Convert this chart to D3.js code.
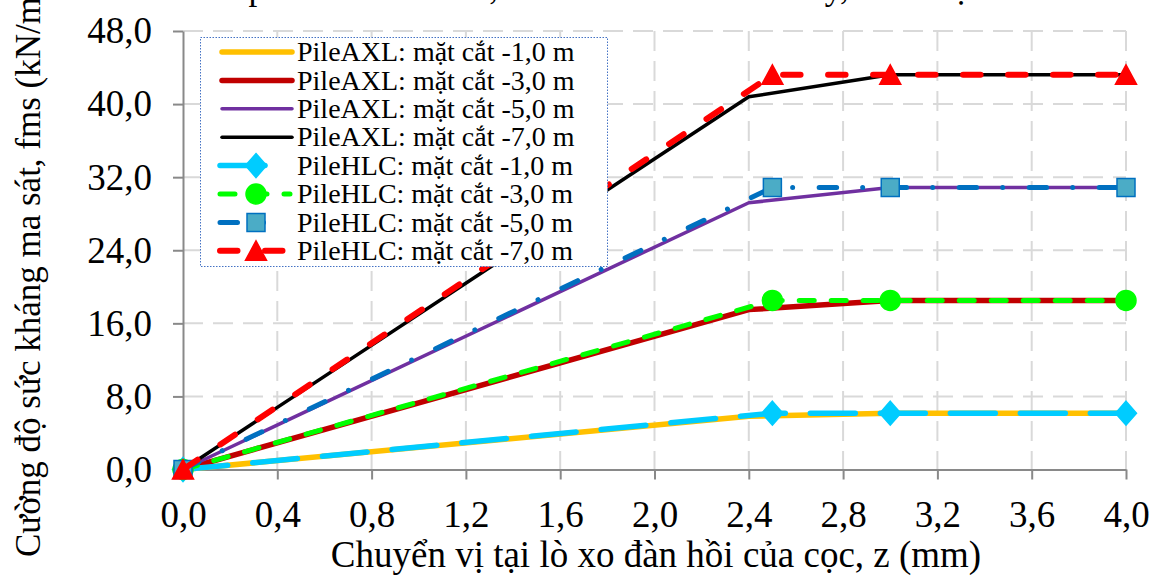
<!DOCTYPE html>
<html>
<head>
<meta charset="utf-8">
<script src="https://cdn.jsdelivr.net/npm/d3@7"></script>
<style>
  html, body { margin: 0; padding: 0; background: #fff; }
  svg { display: block; }
  svg text { font-family: "Liberation Serif", "Times New Roman", serif; }
</style>
</head>
<body>
<svg id="chart" width="1156" height="576"></svg>
<script>
// Displacement z (mm) and unit skin friction fms (kN/m²)
const xAXL = [0, 2.4, 3.0, 4.0];
const axl1 = [0, 5.83, 6.17, 6.17];
const axl3 = [0, 17.5, 18.51, 18.51];
const axl5 = [0, 29.2, 30.86, 30.86];
const axl7 = [0, 40.8, 43.2, 43.2];

const xHLC = [0, 2.5, 3.0, 4.0];
const hlc1 = [0, 6.17, 6.17, 6.17];
const hlc3 = [0, 18.51, 18.51, 18.51];
const hlc5 = [0, 30.86, 30.86, 30.86];
const hlc7 = [0, 43.2, 43.2, 43.2];

const xTicks = [0, 0.4, 0.8, 1.2, 1.6, 2.0, 2.4, 2.8, 3.2, 3.6, 4.0];
const yTicks = [0, 8, 16, 24, 32, 40, 48];

const titleText = "So sánh phần tử PileAXL, PileHLC ở mô hình này, theo mặt cắt";
const xTitle = "Chuyển vị tại lò xo đàn hồi của cọc, z (mm)";
const yTitle = "Cường độ sức kháng ma sát, fms (kN/m²)";

const FONT = "Liberation Serif, Times New Roman, serif";

const axlSeries = [
  { name: "PileAXL: mặt cắt -1,0 m", xs: xAXL, ys: axl1, color: "#FFC000", width: 5.5 },
  { name: "PileAXL: mặt cắt -3,0 m", xs: xAXL, ys: axl3, color: "#C00000", width: 5.5 },
  { name: "PileAXL: mặt cắt -5,0 m", xs: xAXL, ys: axl5, color: "#7030A0", width: 3.5 },
  { name: "PileAXL: mặt cắt -7,0 m", xs: xAXL, ys: axl7, color: "#000000", width: 3.5 }
];
const hlcSeries = [
  { name: "PileHLC: mặt cắt -1,0 m", xs: xHLC, ys: hlc1, color: "#00CCFF", width: 5.5, dash: "45,25", marker: "diamond", fill: "#00CCFF", stroke: "#00CCFF" },
  { name: "PileHLC: mặt cắt -3,0 m", xs: xHLC, ys: hlc3, color: "#00FF00", width: 5, dash: "15,17", marker: "circle", fill: "#00FF00", stroke: "#00FF00" },
  { name: "PileHLC: mặt cắt -5,0 m", xs: xHLC, ys: hlc5, color: "#0070C0", width: 5, dash: "17.5,26,0.01,26.5", marker: "square", fill: "#4BACC6", stroke: "#0070C0" },
  { name: "PileHLC: mặt cắt -7,0 m", xs: xHLC, ys: hlc7, color: "#FF0000", width: 6, dash: "17.5,27.5", marker: "triangle", fill: "#FF0000", stroke: "#FF0000" }
];

const svg = d3.select("#chart");
const x = d3.scaleLinear().domain([0, 4]).range([183, 1126]);
const y = d3.scaleLinear().domain([0, 48]).range([469.5, 31]);
const fmt = d => d3.format(".1f")(d).replace(".", ",");

// Title (runs off the top edge)
svg.append("text")
  .attr("x", 130).attr("y", -1)
  .attr("font-family", FONT)
  .attr("font-size", 35)
  .text(titleText);

// Grid
const grid = svg.append("g").attr("stroke", "#D9D9D9").attr("stroke-width", 2).attr("stroke-dasharray", "20,10");
grid.selectAll(".gx").data(xTicks.filter(d => d > 0)).join("line")
  .attr("x1", d => x(d)).attr("x2", d => x(d))
  .attr("y1", y(48)).attr("y2", y(0));
grid.selectAll(".gy").data(yTicks.filter(d => d > 0)).join("line")
  .attr("y1", d => y(d)).attr("y2", d => y(d))
  .attr("x1", x(0)).attr("x2", x(4));

// Axes
const styleAxis = g => {
  g.attr("font-family", FONT);
  g.select(".domain").attr("stroke", "#898989").attr("stroke-width", 2);
  g.selectAll(".tick line").attr("stroke", "#898989").attr("stroke-width", 2);
  g.selectAll(".tick text").attr("fill", "#000").attr("font-size", 37)
    .attr("font-family", FONT);
};
svg.append("g")
  .attr("transform", `translate(0,${y(0)})`)
  .call(d3.axisBottom(x).tickValues(xTicks).tickFormat(fmt).tickSize(10).tickSizeOuter(0).tickPadding(21))
  .call(styleAxis);
svg.append("g")
  .attr("transform", `translate(${x(0)},0)`)
  .call(d3.axisLeft(y).tickValues(yTicks).tickFormat(fmt).tickSize(10).tickSizeOuter(0).tickPadding(21))
  .call(styleAxis);

// Axis titles
svg.append("text")
  .attr("x", 656).attr("y", 567)
  .attr("text-anchor", "middle")
  .attr("font-family", FONT)
  .attr("font-size", 37)
  .text(xTitle);
svg.append("text")
  .attr("transform", "translate(40,557) rotate(-90)")
  .attr("font-family", FONT)
  .attr("font-size", 35)
  .text(yTitle);

// Marker shapes
function markerPath(type) {
  switch (type) {
    case "diamond": return "M0,-12L10.5,0L0,12L-10.5,0Z";
    case "circle": return d3.symbol(d3.symbolCircle, Math.PI * 100)();
    case "square": return "M-9,-9H9V9H-9Z";
    case "triangle": return "M0,-10L10.5,9.5L-10.5,9.5Z";
  }
}

const line = d3.line();
const pts = s => s.xs.map((v, i) => [x(v), y(s.ys[i])]);

// PileAXL curves
svg.append("g").selectAll("path").data(axlSeries).join("path")
  .attr("d", s => line(pts(s)))
  .attr("fill", "none")
  .attr("stroke", s => s.color)
  .attr("stroke-width", s => s.width)
  .attr("stroke-linejoin", "round")
  .attr("stroke-linecap", "round");

// PileHLC curves with markers
hlcSeries.forEach(s => {
  const g = svg.append("g");
  g.append("path")
    .attr("d", line(pts(s)))
    .attr("fill", "none")
    .attr("stroke", s.color)
    .attr("stroke-width", s.width)
    .attr("stroke-dasharray", s.dash)
    .attr("stroke-linejoin", "round")
    .attr("stroke-linecap", "round");
  g.selectAll(".m").data(pts(s)).join("path")
    .attr("transform", p => `translate(${p[0]},${p[1]})`)
    .attr("d", markerPath(s.marker))
    .attr("fill", s.fill)
    .attr("stroke", s.stroke)
    .attr("stroke-width", 1.5);
});

// Legend
const lg = svg.append("g").attr("font-family", FONT);
lg.append("rect")
  .attr("x", 200.5).attr("y", 37.5).attr("width", 407).attr("height", 229)
  .attr("fill", "#fff").attr("stroke", "#4472C4").attr("stroke-width", 1)
  .attr("stroke-dasharray", "1.5,1.5");
const rowY = i => 52 + i * 28.4;
axlSeries.forEach((s, i) => {
  lg.append("line")
    .attr("x1", 222).attr("x2", 292).attr("y1", rowY(i)).attr("y2", rowY(i))
    .attr("stroke", s.color).attr("stroke-width", s.width).attr("stroke-linecap", "round");
  lg.append("text").attr("x", 297).attr("y", rowY(i)).attr("dy", "0.33em")
    .attr("font-family", FONT)
    .attr("font-size", 28).text(s.name);
});
hlcSeries.forEach((s, j) => {
  const i = j + 4;
  lg.append("line")
    .attr("x1", 220).attr("x2", 290).attr("y1", rowY(i)).attr("y2", rowY(i))
    .attr("stroke", s.color).attr("stroke-width", s.width)
    .attr("stroke-dasharray", s.dash).attr("stroke-linecap", "round");
  lg.append("path")
    .attr("transform", `translate(256,${rowY(i)})`)
    .attr("d", markerPath(s.marker))
    .attr("fill", s.fill).attr("stroke", s.stroke).attr("stroke-width", 1.5);
  lg.append("text").attr("x", 297).attr("y", rowY(i)).attr("dy", "0.33em")
    .attr("font-family", FONT)
    .attr("font-size", 28).text(s.name);
});
</script>
</body>
</html>
